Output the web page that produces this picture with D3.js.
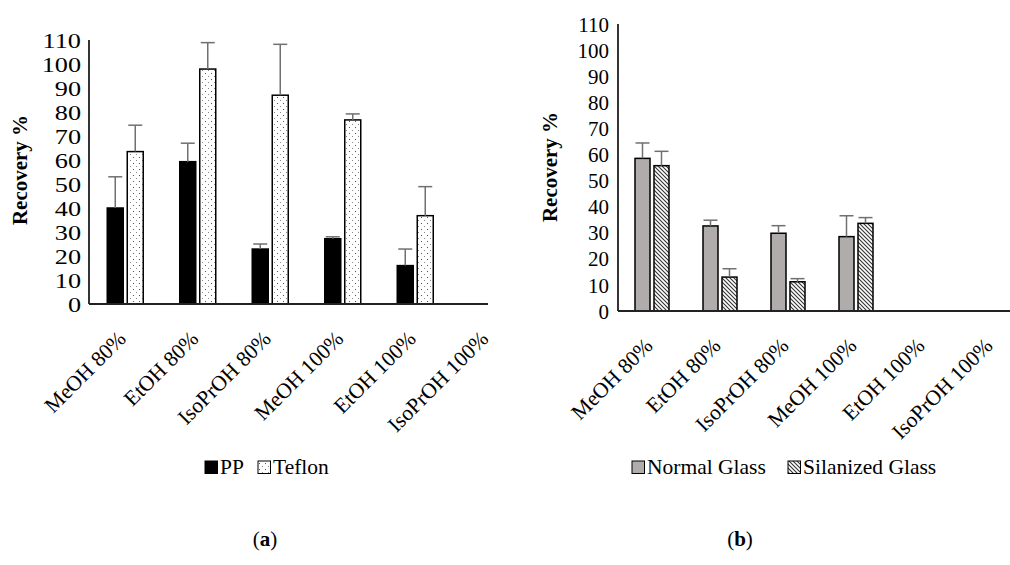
<!DOCTYPE html>
<html>
<head>
<meta charset="utf-8">
<script src="https://cdn.jsdelivr.net/npm/d3@7"></script>
<style>
  html, body { margin: 0; padding: 0; background: #fff; }
  svg { display: block; font-family: "Liberation Serif", "Times New Roman", serif; }
</style>
</head>
<body>
<svg id="chart" width="1010" height="565"></svg>
<script>
// ---------- data ----------
const categories = ["MeOH 80%", "EtOH 80%", "IsoPrOH 80%", "MeOH 100%", "EtOH 100%", "IsoPrOH 100%"];
const yTicks = [0, 10, 20, 30, 40, 50, 60, 70, 80, 90, 100, 110];

const ppValues      = [40.0, 59.3, 22.9, 27.2, 16.0, 0];
const ppErrors      = [13.0,  7.7,  2.1,  0.8,  6.9, 0];
const teflonValues  = [63.5, 97.9, 87.0, 76.7, 36.8, 0];
const teflonErrors  = [11.0, 11.0, 21.2,  2.5, 12.1, 0];

const normalValues    = [58.5, 32.6, 29.8, 28.5, 0, 0];
const normalErrors    = [ 5.9,  2.2,  2.9,  8.0, 0, 0];
const silanizedValues = [55.7, 13.0, 11.2, 33.6, 0, 0];
const silanizedErrors = [ 5.5,  3.2,  1.2,  2.2, 0, 0];

const seriesA = [
  {name: "PP", values: ppValues, errors: ppErrors, fill: "#000"},
  {name: "Teflon", values: teflonValues, errors: teflonErrors, fill: "url(#dots)"}
];
const seriesB = [
  {name: "Normal Glass", values: normalValues, errors: normalErrors, fill: "#b0acac"},
  {name: "Silanized Glass", values: silanizedValues, errors: silanizedErrors, fill: "url(#hatch)"}
];

// ---------- svg & patterns ----------
const svg = d3.select("#chart");
const defs = svg.append("defs");
const dots = defs.append("pattern").attr("id", "dots").attr("patternUnits", "userSpaceOnUse")
  .attr("width", 6).attr("height", 6);
dots.append("rect").attr("width", 6).attr("height", 6).attr("fill", "#fff");
dots.append("rect").attr("x", 1).attr("y", 1).attr("width", 1).attr("height", 1).attr("fill", "#555");
dots.append("rect").attr("x", 4).attr("y", 4).attr("width", 1).attr("height", 1).attr("fill", "#888");

const hatch = defs.append("pattern").attr("id", "hatch").attr("patternUnits", "userSpaceOnUse")
  .attr("width", 4).attr("height", 4);
hatch.append("rect").attr("width", 4).attr("height", 4).attr("fill", "#fff");
hatch.append("path").attr("d", "M-1,-1 L5,5 M-1,3 L1,5 M3,-1 L5,1")
  .attr("stroke", "#333").attr("stroke-width", 1.1);

// ---------- panel drawer ----------
function drawPanel(cfg) {
  const x = d3.scaleBand().domain(categories).range([cfg.x0, cfg.x0 + cfg.band * categories.length]);
  const y = d3.scaleLinear().domain([0, 110]).range([cfg.y0, cfg.yTop]);
  const g = svg.append("g");

  // y axis (no tick marks)
  const yAxis = d3.axisLeft(y).tickValues(yTicks).tickSize(0).tickPadding(0);
  const ya = g.append("g").attr("transform", `translate(${cfg.x0},0)`).call(yAxis);
  ya.select(".domain").remove();
  ya.selectAll("text").attr("font-family", "Liberation Serif").attr("font-size", cfg.tickFont)
    .attr("fill", "#000").attr("dy", "0.34em")
    .attr("x", -cfg.tickPad / cfg.tickStretch)
    .attr("transform", `scale(${cfg.tickStretch},1)`);
  g.append("line").attr("x1", cfg.x0).attr("x2", cfg.x0).attr("y1", y(0)).attr("y2", y(110))
    .attr("stroke", "#000").attr("stroke-width", 1.6);

  // bars
  const bw = cfg.barW, gap = cfg.gap;
  cfg.series.forEach((s, si) => {
    categories.forEach((c, i) => {
      const v = s.values[i];
      if (!v) return;
      const cx = x(c) + x.bandwidth() / 2;
      const bx = si === 0 ? cx - gap / 2 - bw : cx + gap / 2;
      g.append("rect").attr("x", bx).attr("y", y(v)).attr("width", bw).attr("height", y(0) - y(v))
        .attr("fill", s.fill).attr("stroke", "#000").attr("stroke-width", 1.5);
      const e = s.errors[i];
      if (e > 0) {
        const ex = bx + bw / 2;
        g.append("line").attr("x1", ex).attr("x2", ex).attr("y1", y(v)).attr("y2", y(v + e))
          .attr("stroke", "#707070").attr("stroke-width", 1.5);
        g.append("line").attr("x1", ex - 7).attr("x2", ex + 7).attr("y1", y(v + e)).attr("y2", y(v + e))
          .attr("stroke", "#707070").attr("stroke-width", 1.5);
      }
    });
  });

  // x axis line
  g.append("line").attr("x1", cfg.x0).attr("x2", cfg.xEnd).attr("y1", y(0)).attr("y2", y(0))
    .attr("stroke", "#222").attr("stroke-width", 1.8);

  // x labels
  categories.forEach(c => {
    const cx = x(c) + x.bandwidth() / 2;
    g.append("text").attr("transform", `translate(${cx + 2},${cfg.y0 + 36}) rotate(-45)`)
      .attr("text-anchor", "end").attr("font-size", 21.5).attr("fill", "#000").text(c);
  });

  // y title
  g.append("text").attr("transform", `translate(${cfg.titleX},${cfg.titleY}) rotate(-90)`)
    .attr("text-anchor", "middle").attr("font-weight", "bold").attr("font-size", 21)
    .attr("fill", "#000").text("Recovery %");

  // legend
  cfg.series.forEach((s, si) => {
    const lx = cfg.legendX[si];
    g.append("rect").attr("x", lx).attr("y", cfg.legendY - 13).attr("width", 12.5).attr("height", 12.5)
      .attr("fill", s.fill).attr("stroke", "#000").attr("stroke-width", 1);
    g.append("text").attr("x", lx + 15).attr("y", cfg.legendY).attr("font-size", 21.5)
      .attr("fill", "#000").text(s.name);
  });

  // caption
  g.append("text").attr("x", cfg.capX).attr("y", 546).attr("text-anchor", "middle")
    .attr("font-size", 21).attr("fill", "#000")
    .call(t => { t.append("tspan").text("("); t.append("tspan").attr("font-weight", "bold").text(cfg.cap); t.append("tspan").text(")"); });
}

drawPanel({
  x0: 89, y0: 304, yTop: 40, band: 72.5, xEnd: 488, barW: 16, gap: 4,
  series: seriesA, tickFont: 21, tickStretch: 1.25, tickPad: 8, titleX: 27, titleY: 170,
  legendX: [205, 258], legendY: 474, capX: 265, cap: "a"
});
drawPanel({
  x0: 618, y0: 311, yTop: 24, band: 68, xEnd: 1010, barW: 15, gap: 4,
  series: seriesB, tickFont: 21, tickStretch: 1.0, tickPad: 9, titleX: 557, titleY: 167,
  legendX: [632, 788], legendY: 474, capX: 740, cap: "b"
});
</script>
</body>
</html>
